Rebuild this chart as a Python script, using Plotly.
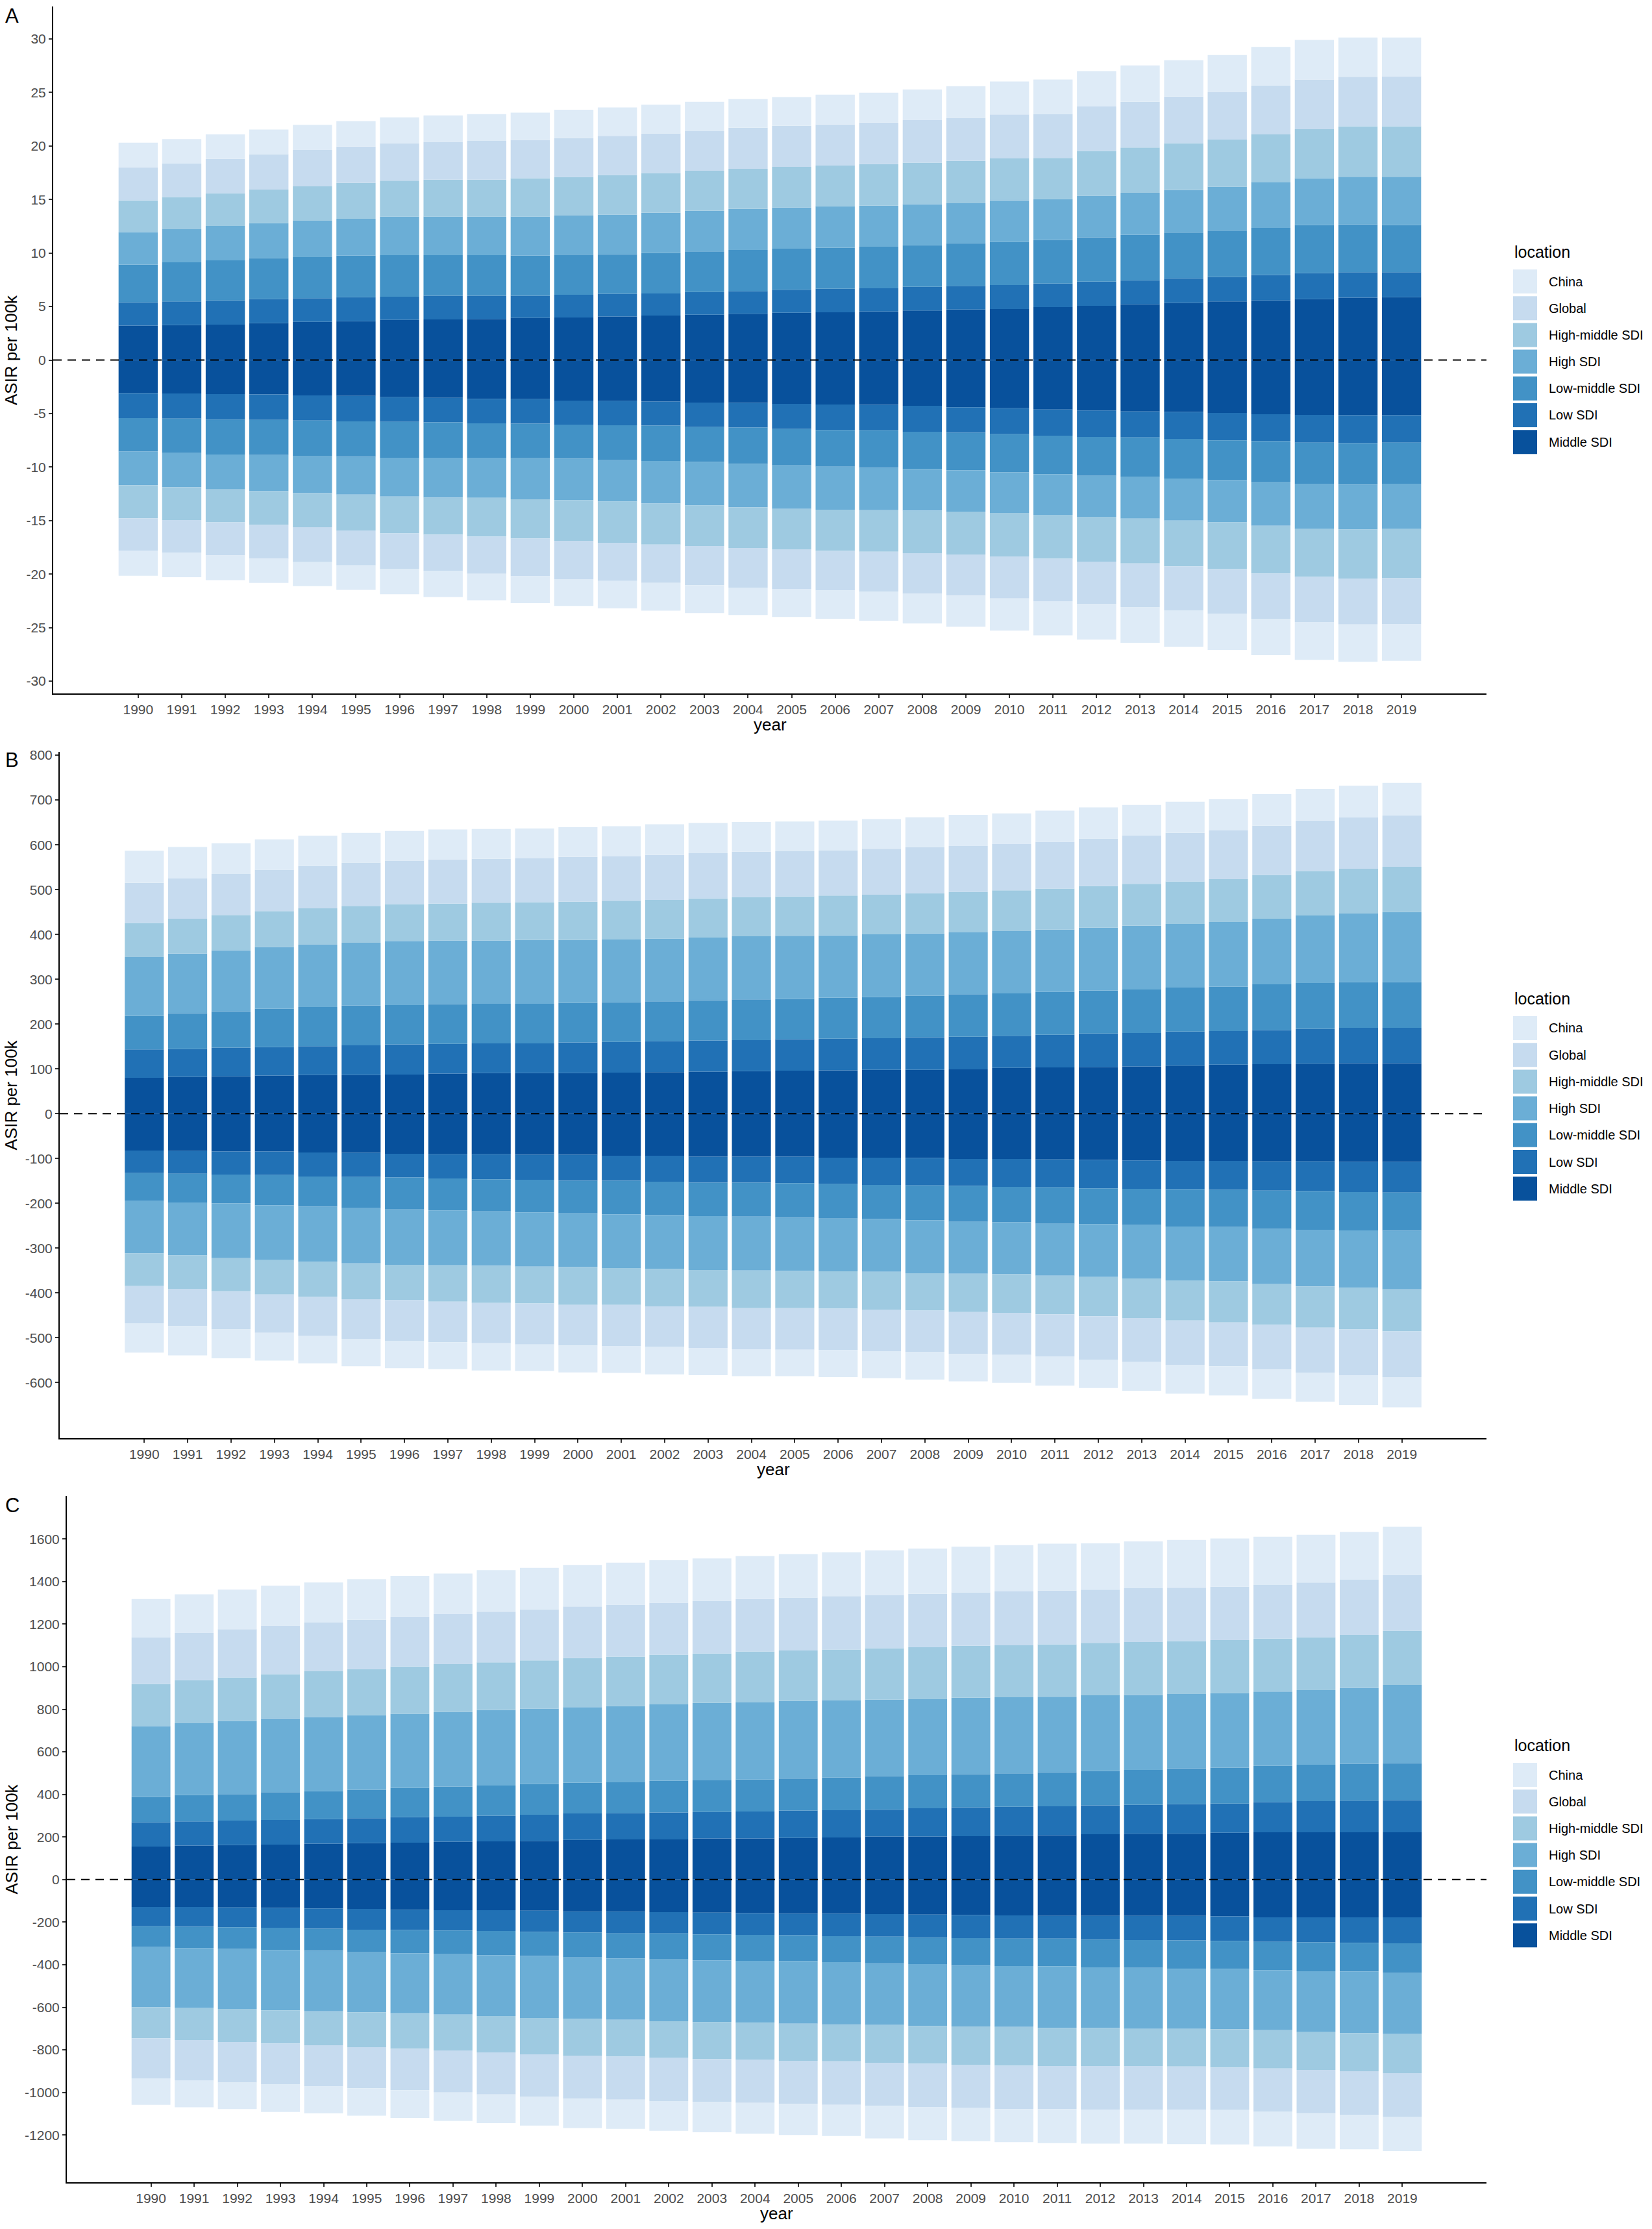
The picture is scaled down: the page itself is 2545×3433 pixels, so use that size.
import plotly.graph_objects as go

# ASIR per 100k, stacked by location; positive side above 0, negative side below 0
years = list(range(1990, 2020))

locations = ["Middle SDI", "Low SDI", "Low-middle SDI", "High SDI",
             "High-middle SDI", "Global", "China"]
legend_order = ["China", "Global", "High-middle SDI", "High SDI",
                "Low-middle SDI", "Low SDI", "Middle SDI"]
colors = {
    "China": "#DEEBF7",
    "Global": "#C6DBEF",
    "High-middle SDI": "#9ECAE1",
    "High SDI": "#6BAED6",
    "Low-middle SDI": "#4292C6",
    "Low SDI": "#2171B5",
    "Middle SDI": "#08519C",
}

# ---- panel A ----
a_up_mid = [3.22, 3.26, 3.31, 3.44, 3.57, 3.62, 3.75, 3.79, 3.84, 3.93, 3.97, 4.06, 4.15, 4.23, 4.32, 4.41, 4.46, 4.54, 4.63, 4.72, 4.76, 4.94, 5.07, 5.20, 5.34, 5.47, 5.56, 5.69, 5.82, 5.87]
a_up_low = [2.16, 2.21, 2.25, 2.25, 2.21, 2.25, 2.16, 2.21, 2.16, 2.07, 2.12, 2.12, 2.07, 2.12, 2.12, 2.16, 2.20, 2.16, 2.21, 2.21, 2.25, 2.21, 2.25, 2.25, 2.29, 2.29, 2.38, 2.43, 2.38, 2.33]
a_up_lm = [3.53, 3.66, 3.75, 3.84, 3.84, 3.88, 3.88, 3.79, 3.79, 3.75, 3.75, 3.70, 3.79, 3.80, 3.84, 3.84, 3.84, 3.89, 3.88, 3.97, 4.02, 4.05, 4.15, 4.24, 4.28, 4.33, 4.41, 4.50, 4.46, 4.42]
a_up_high = [3.04, 3.09, 3.22, 3.26, 3.39, 3.44, 3.62, 3.62, 3.62, 3.66, 3.66, 3.71, 3.75, 3.79, 3.84, 3.84, 3.88, 3.83, 3.84, 3.75, 3.88, 3.84, 3.88, 3.93, 3.97, 4.10, 4.28, 4.36, 4.46, 4.50]
a_up_hm = [2.95, 3.00, 3.04, 3.13, 3.22, 3.35, 3.35, 3.44, 3.44, 3.57, 3.61, 3.70, 3.71, 3.75, 3.74, 3.79, 3.79, 3.89, 3.88, 3.96, 3.93, 3.84, 4.19, 4.23, 4.37, 4.41, 4.45, 4.59, 4.72, 4.72]
a_up_glob = [3.10, 3.13, 3.22, 3.31, 3.40, 3.40, 3.49, 3.53, 3.62, 3.58, 3.62, 3.66, 3.70, 3.70, 3.84, 3.84, 3.84, 3.88, 3.97, 4.02, 4.10, 4.11, 4.15, 4.28, 4.36, 4.46, 4.55, 4.63, 4.63, 4.67]
a_up_china = [2.30, 2.29, 2.29, 2.30, 2.34, 2.38, 2.42, 2.47, 2.51, 2.55, 2.65, 2.65, 2.69, 2.74, 2.69, 2.69, 2.78, 2.78, 2.87, 2.95, 3.09, 3.22, 3.31, 3.40, 3.40, 3.44, 3.62, 3.71, 3.66, 3.62]

a_dn_mid = [-3.09, -3.13, -3.18, -3.22, -3.31, -3.35, -3.48, -3.53, -3.62, -3.66, -3.79, -3.84, -3.88, -3.97, -4.01, -4.10, -4.15, -4.19, -4.28, -4.41, -4.50, -4.63, -4.72, -4.81, -4.85, -4.94, -5.07, -5.12, -5.16, -5.16]
a_dn_low = [-2.34, -2.34, -2.38, -2.38, -2.34, -2.38, -2.30, -2.29, -2.29, -2.29, -2.25, -2.25, -2.25, -2.29, -2.30, -2.34, -2.38, -2.38, -2.42, -2.38, -2.43, -2.43, -2.47, -2.42, -2.52, -2.56, -2.52, -2.60, -2.60, -2.56]
a_dn_lm = [-3.13, -3.22, -3.26, -3.27, -3.35, -3.31, -3.35, -3.31, -3.22, -3.22, -3.18, -3.26, -3.31, -3.27, -3.39, -3.40, -3.44, -3.49, -3.49, -3.53, -3.57, -3.61, -3.62, -3.71, -3.70, -3.70, -3.83, -3.88, -3.89, -3.84]
a_dn_high = [-3.13, -3.18, -3.27, -3.39, -3.44, -3.53, -3.62, -3.71, -3.75, -3.84, -3.88, -3.88, -3.97, -4.06, -4.06, -4.06, -4.01, -3.97, -3.88, -3.84, -3.79, -3.80, -3.84, -3.88, -3.93, -3.97, -4.06, -4.19, -4.19, -4.23]
a_dn_hm = [-3.09, -3.08, -3.08, -3.14, -3.18, -3.35, -3.44, -3.48, -3.62, -3.66, -3.79, -3.84, -3.84, -3.79, -3.80, -3.79, -3.84, -3.88, -3.97, -4.01, -4.06, -4.10, -4.19, -4.19, -4.28, -4.37, -4.46, -4.46, -4.58, -4.59]
a_dn_glob = [-3.04, -3.05, -3.09, -3.17, -3.26, -3.27, -3.31, -3.40, -3.48, -3.53, -3.58, -3.57, -3.57, -3.66, -3.70, -3.70, -3.71, -3.75, -3.80, -3.84, -3.93, -3.97, -3.97, -4.10, -4.10, -4.15, -4.23, -4.23, -4.28, -4.28]
a_dn_china = [-2.34, -2.29, -2.30, -2.25, -2.25, -2.29, -2.38, -2.42, -2.47, -2.52, -2.51, -2.56, -2.60, -2.60, -2.56, -2.61, -2.64, -2.69, -2.77, -2.91, -3.00, -3.18, -3.30, -3.31, -3.40, -3.39, -3.40, -3.53, -3.49, -3.44]

# ---- panel B ----
b_up_mid = [80.1, 82.2, 83.2, 85.3, 86.4, 86.4, 87.4, 89.5, 90.6, 90.6, 90.6, 91.6, 92.7, 93.8, 94.8, 95.9, 96.9, 98.0, 98.0, 99.0, 102.2, 103.2, 104.3, 105.3, 107.4, 109.6, 110.6, 111.7, 112.7, 112.7]
b_up_low = [63.2, 62.1, 64.3, 63.2, 64.2, 66.3, 67.4, 66.4, 66.4, 66.4, 68.5, 68.5, 69.5, 69.5, 69.5, 70.5, 70.6, 70.5, 72.7, 72.7, 71.6, 72.7, 74.8, 74.8, 75.9, 74.7, 75.9, 77.9, 79.0, 79.0]
b_up_lm = [74.7, 80.1, 81.1, 85.4, 87.5, 88.5, 87.5, 88.5, 88.4, 88.4, 88.4, 88.5, 88.5, 89.5, 90.6, 89.6, 91.6, 91.7, 92.7, 94.8, 94.8, 95.9, 95.8, 96.9, 98.0, 99.1, 102.1, 102.2, 102.2, 102.2]
b_up_high = [131.7, 132.7, 135.9, 138.0, 139.0, 140.1, 143.2, 142.2, 141.2, 142.3, 140.2, 140.1, 140.1, 140.1, 141.2, 141.1, 139.1, 140.1, 139.0, 138.0, 139.1, 139.0, 140.1, 142.3, 142.2, 144.3, 146.5, 150.6, 152.7, 155.9]
b_up_hm = [75.9, 77.9, 79.0, 80.0, 81.1, 82.2, 82.2, 82.2, 84.3, 84.2, 85.3, 86.4, 86.4, 87.5, 87.4, 87.5, 88.5, 88.5, 89.5, 90.6, 90.6, 91.7, 92.7, 93.7, 94.8, 95.8, 97.9, 99.1, 100.1, 101.1]
b_up_glob = [89.4, 90.6, 91.6, 92.7, 94.8, 96.9, 96.9, 99.0, 97.9, 98.0, 100.1, 99.0, 100.1, 101.1, 101.1, 101.1, 101.1, 102.2, 103.3, 102.2, 103.2, 104.3, 106.4, 107.5, 108.5, 108.5, 109.6, 112.7, 114.8, 114.8]
b_up_china = [71.7, 69.6, 68.5, 67.4, 67.5, 66.4, 66.4, 66.3, 66.4, 66.4, 66.3, 67.4, 68.4, 67.4, 66.4, 66.3, 66.4, 66.3, 66.3, 69.5, 68.5, 69.5, 69.6, 68.4, 69.5, 69.6, 70.6, 70.5, 70.6, 72.7]

b_dn_mid = [-82.2, -83.2, -84.3, -84.3, -86.4, -87.4, -89.5, -90.6, -90.6, -91.6, -91.6, -93.8, -93.8, -95.9, -95.9, -95.9, -98.0, -98.0, -99.0, -101.1, -101.1, -102.2, -103.2, -104.3, -105.3, -105.3, -106.4, -106.4, -107.4, -107.4]
b_dn_low = [-50.5, -50.6, -51.6, -52.6, -53.7, -53.8, -52.7, -53.7, -55.8, -55.9, -58.0, -55.8, -57.9, -57.9, -57.9, -58.9, -59.0, -61.1, -61.1, -60.1, -62.2, -62.1, -63.2, -63.2, -63.2, -64.3, -65.3, -66.4, -67.5, -68.5]
b_dn_lm = [-62.2, -64.2, -64.2, -67.5, -67.4, -69.5, -71.6, -71.7, -71.7, -72.7, -72.7, -74.8, -74.8, -74.8, -75.8, -76.9, -76.9, -75.8, -78.0, -80.0, -79.0, -81.1, -80.1, -81.1, -83.3, -83.2, -85.3, -86.3, -85.3, -85.3]
b_dn_high = [-116.9, -118.0, -122.2, -122.2, -123.3, -123.2, -123.3, -122.1, -121.1, -121.1, -120.1, -120.1, -120.1, -120.1, -120.1, -119.1, -117.9, -118.0, -117.9, -115.9, -115.9, -115.9, -118.0, -119.0, -120.1, -121.2, -123.3, -126.4, -128.5, -130.7]
b_dn_hm = [-72.7, -74.8, -73.8, -76.9, -77.9, -80.1, -79.0, -81.2, -83.2, -82.2, -84.2, -82.1, -83.2, -82.1, -84.3, -83.2, -83.3, -84.3, -83.3, -85.3, -86.3, -86.4, -87.4, -88.5, -89.5, -91.6, -90.6, -91.7, -92.7, -93.7]
b_dn_glob = [-83.2, -83.2, -85.3, -85.3, -87.5, -88.5, -90.6, -90.5, -89.6, -91.6, -90.6, -91.7, -90.6, -91.7, -91.6, -92.7, -92.7, -92.7, -92.7, -93.8, -93.8, -93.7, -96.9, -98.0, -99.0, -98.0, -100.0, -101.1, -102.2, -102.2]
b_dn_china = [-65.3, -65.3, -64.3, -62.1, -61.0, -61.1, -61.1, -60.1, -61.1, -59.0, -60.1, -60.0, -61.1, -61.1, -60.1, -59.0, -60.0, -60.0, -61.1, -61.1, -62.1, -65.4, -63.2, -64.2, -64.3, -65.3, -65.4, -64.3, -66.4, -67.4]

# ---- panel C ----
c_up_mid = [155.3, 159.7, 162.0, 164.2, 168.6, 170.8, 173.1, 177.5, 179.7, 181.9, 186.4, 188.6, 188.6, 193.0, 193.0, 195.2, 197.5, 201.9, 201.9, 204.1, 206.3, 208.6, 213.0, 215.2, 215.2, 219.7, 221.9, 221.9, 221.9, 221.9]
c_up_low = [113.2, 113.2, 115.3, 115.4, 115.4, 117.6, 119.8, 117.6, 119.8, 122.1, 124.2, 124.2, 126.4, 124.3, 126.5, 128.7, 128.6, 126.5, 133.1, 135.3, 135.4, 135.3, 135.3, 135.4, 139.8, 137.5, 142.0, 146.4, 148.6, 150.8]
c_up_lm = [119.8, 124.2, 124.3, 130.9, 130.9, 133.2, 137.5, 142.0, 142.0, 144.2, 144.2, 146.5, 148.7, 148.6, 150.9, 150.9, 153.1, 157.5, 155.3, 155.3, 157.5, 159.7, 162.0, 164.1, 166.4, 168.6, 170.8, 170.8, 173.1, 173.1]
c_up_high = [332.8, 337.3, 343.9, 346.1, 348.3, 350.5, 348.4, 350.5, 355.0, 355.0, 355.1, 355.0, 359.4, 363.9, 361.6, 363.9, 361.7, 359.4, 357.2, 359.5, 357.2, 355.0, 355.0, 352.8, 350.5, 350.6, 348.3, 350.6, 357.2, 368.3]
c_up_hm = [197.4, 201.9, 204.1, 208.5, 215.2, 217.4, 221.8, 224.1, 224.1, 226.3, 230.7, 232.9, 233.0, 232.9, 239.6, 237.3, 239.6, 241.8, 244.1, 244.0, 244.1, 246.3, 246.3, 248.5, 248.5, 248.5, 248.5, 248.5, 248.5, 255.2]
c_up_glob = [219.7, 221.9, 226.3, 228.6, 228.6, 230.8, 235.2, 235.2, 237.4, 239.6, 241.8, 244.1, 244.1, 246.4, 246.3, 248.5, 250.7, 248.5, 250.7, 250.7, 252.9, 252.9, 250.7, 252.9, 250.8, 250.7, 253.0, 257.4, 259.6, 261.8]
c_up_china = [179.7, 181.9, 186.4, 186.3, 188.6, 190.8, 190.8, 190.8, 195.2, 195.2, 195.2, 197.4, 199.6, 199.6, 201.9, 204.2, 206.4, 210.8, 213.0, 215.3, 217.4, 219.7, 217.4, 219.7, 224.0, 226.3, 226.3, 224.1, 224.1, 226.3]

c_dn_mid = [-128.7, -128.7, -130.9, -133.1, -135.3, -137.6, -142.0, -144.2, -144.2, -146.4, -150.9, -150.9, -153.1, -155.3, -157.5, -159.7, -159.7, -162.0, -164.2, -166.4, -168.6, -170.8, -170.8, -170.8, -170.8, -173.1, -177.5, -177.5, -177.5, -177.5]
c_dn_low = [-91.0, -93.2, -93.2, -93.2, -95.4, -97.6, -95.4, -95.4, -97.6, -99.9, -97.6, -102.1, -99.9, -102.1, -102.1, -102.1, -106.5, -106.5, -108.7, -108.7, -108.7, -106.5, -111.0, -113.2, -115.4, -115.3, -115.4, -117.6, -119.8, -122.0]
c_dn_lm = [-97.6, -99.8, -102.1, -104.3, -104.3, -106.5, -108.7, -111.0, -113.2, -113.1, -117.6, -117.5, -122.0, -122.0, -122.0, -122.0, -122.1, -126.5, -124.3, -128.7, -128.7, -130.9, -130.9, -130.9, -133.1, -130.9, -133.1, -135.3, -135.3, -139.8]
c_dn_high = [-281.7, -281.8, -281.7, -284.0, -284.0, -281.8, -281.8, -284.0, -286.2, -290.7, -288.4, -288.4, -290.6, -290.6, -290.7, -292.9, -292.9, -288.4, -290.6, -286.2, -286.3, -288.5, -284.0, -286.2, -281.8, -284.0, -281.8, -286.2, -288.5, -286.2]
c_dn_hm = [-146.5, -150.9, -155.3, -155.3, -159.8, -164.1, -166.4, -168.6, -170.8, -170.8, -173.1, -173.1, -170.8, -173.1, -173.0, -175.3, -173.0, -177.5, -177.5, -179.8, -181.9, -179.7, -179.7, -175.3, -177.5, -179.7, -179.7, -177.5, -179.7, -184.2]
c_dn_glob = [-188.6, -188.6, -190.8, -193.0, -193.0, -193.1, -195.2, -197.4, -197.5, -199.7, -201.9, -201.9, -204.2, -201.9, -204.1, -201.9, -204.1, -201.8, -204.1, -204.1, -204.1, -201.9, -204.1, -204.1, -201.9, -199.7, -201.9, -204.2, -204.1, -204.1]
c_dn_china = [-124.2, -126.4, -124.3, -128.7, -126.5, -128.7, -130.9, -133.1, -135.3, -135.4, -137.5, -137.6, -139.8, -142.0, -144.3, -146.4, -146.4, -153.1, -155.3, -155.3, -155.3, -159.7, -159.8, -159.8, -162.0, -162.0, -164.2, -166.4, -162.0, -162.0]

# y ticks for each panel
a_ticks = list(range(-30, 31, 5))
b_ticks = list(range(-600, 801, 100))
c_ticks = list(range(-1200, 1601, 200))

panels = [
    {"tag": "A", "up": [a_up_mid, a_up_low, a_up_lm, a_up_high, a_up_hm, a_up_glob, a_up_china],
     "dn": [a_dn_mid, a_dn_low, a_dn_lm, a_dn_high, a_dn_hm, a_dn_glob, a_dn_china],
     "ticks": a_ticks, "yrange": [-31.15, 33.03], "left": 82, "top": 10, "bottom": 1068},
    {"tag": "B", "up": [b_up_mid, b_up_low, b_up_lm, b_up_high, b_up_hm, b_up_glob, b_up_china],
     "dn": [b_dn_mid, b_dn_low, b_dn_lm, b_dn_high, b_dn_hm, b_dn_glob, b_dn_china],
     "ticks": b_ticks, "yrange": [-724, 807.4], "left": 92, "top": 1158, "bottom": 2215},
    {"tag": "C", "up": [c_up_mid, c_up_low, c_up_lm, c_up_high, c_up_hm, c_up_glob, c_up_china],
     "dn": [c_dn_mid, c_dn_low, c_dn_lm, c_dn_high, c_dn_hm, c_dn_glob, c_dn_china],
     "ticks": c_ticks, "yrange": [-1422, 1802], "left": 103, "top": 2304, "bottom": 3361},
]

W, H = 2545, 3433
RIGHT = 2290
FONT = "Arial, Liberation Sans, sans-serif"


def fx(px):
    return px / W


def fy(py):
    return 1 - py / H


fig = go.Figure()
shapes = []
annotations = []

for i, p in enumerate(panels):
    sfx = "" if i == 0 else str(i + 1)
    xa, ya = "x" + sfx, "y" + sfx
    for loc, up, dn in zip(locations, p["up"], p["dn"]):
        for vals in (up, dn):
            fig.add_trace(go.Bar(
                x=years, y=vals, name=loc, width=0.9,
                marker=dict(color=colors[loc], line=dict(width=0)),
                xaxis=xa, yaxis=ya, showlegend=False,
            ))

    fig.update_layout({
        "xaxis" + sfx: dict(
            domain=[fx(p["left"]), fx(RIGHT)], anchor=ya, range=[1988.05, 2020.95],
            tickmode="array", tickvals=years, ticktext=[str(y) for y in years],
            showline=True, linecolor="black", linewidth=2, mirror=False,
            ticks="outside", ticklen=5, tickwidth=2, tickcolor="#333333",
            tickfont=dict(size=21, color="#4D4D4D", family=FONT),
            showgrid=False, zeroline=False, automargin=False,
        ),
        "yaxis" + sfx: dict(
            domain=[fy(p["bottom"]), fy(p["top"])], anchor=xa, range=p["yrange"],
            tickmode="array", tickvals=p["ticks"], ticktext=[str(t) for t in p["ticks"]],
            showline=True, linecolor="black", linewidth=2,
            ticks="outside", ticklen=5, tickwidth=2, tickcolor="#333333",
            tickfont=dict(size=21, color="#4D4D4D", family=FONT),
            showgrid=False, zeroline=False, automargin=False,
        ),
    })

    # dashed line at 0
    shapes.append(dict(type="line", xref=xa + " domain", yref=ya, x0=0, x1=1, y0=0, y1=0,
                       line=dict(color="black", width=2, dash="13px,9px"), layer="above"))

    # panel tag
    tag_y = [24, 1170, 2318][i]
    annotations.append(dict(text=p["tag"], x=fx(6), y=fy(tag_y), xref="paper", yref="paper",
                            xanchor="left", yanchor="middle", showarrow=False,
                            font=dict(size=31, color="black", family=FONT)))
    # axis titles
    annotations.append(dict(text="ASIR per 100k", x=fx(17), y=fy((p["top"] + p["bottom"]) / 2),
                            xref="paper", yref="paper", textangle=-90, showarrow=False,
                            xanchor="center", yanchor="middle",
                            font=dict(size=26, color="black", family=FONT)))
    annotations.append(dict(text="year", x=fx((p["left"] + RIGHT) / 2), y=fy(p["bottom"] + 48),
                            xref="paper", yref="paper", showarrow=False,
                            xanchor="center", yanchor="middle",
                            font=dict(size=26, color="black", family=FONT)))

    # legend (ggplot style keys)
    off = 1150 * i
    annotations.append(dict(text="location", x=fx(2331), y=fy(388 + off), xref="paper", yref="paper",
                            xanchor="left", yanchor="middle", showarrow=False,
                            font=dict(size=25, color="black", family=FONT)))
    for k, loc in enumerate(legend_order):
        top = 415 + off + k * 41.2
        shapes.append(dict(type="rect", xref="paper", yref="paper",
                           x0=fx(2331), x1=fx(2368), y0=fy(top + 37), y1=fy(top),
                           fillcolor=colors[loc], line=dict(width=0)))
        annotations.append(dict(text=loc, x=fx(2384), y=fy(top + 18.5), xref="paper", yref="paper",
                                xanchor="left", yanchor="middle", showarrow=False,
                                font=dict(size=20, color="black", family=FONT)))

fig.update_layout(
    width=W, height=H,
    margin=dict(l=0, r=0, t=0, b=0),
    barmode="relative",
    paper_bgcolor="white", plot_bgcolor="white",
    showlegend=False,
    shapes=shapes, annotations=annotations,
    font=dict(family=FONT),
)

fig.write_html("out.html", config={"displayModeBar": False},
               post_script="document.body.style.margin='0';document.body.style.overflow='hidden';")
